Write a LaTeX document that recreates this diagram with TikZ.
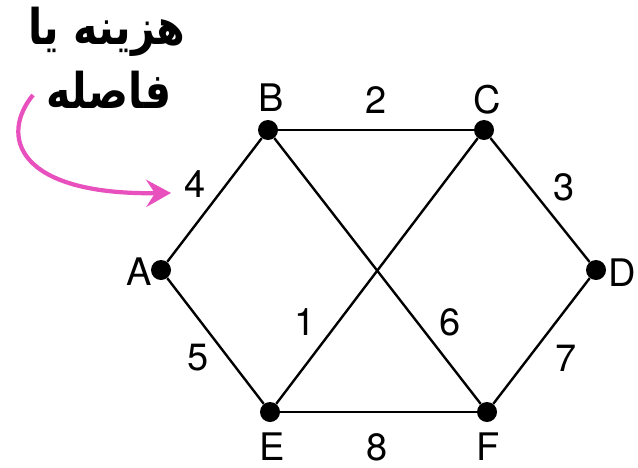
\documentclass[tikz,border=0pt]{standalone}
\usepackage{fontspec}
\setmainfont{TeX Gyre Heros}
\newfontfamily\arabicfont[Script=Arabic, FakeStretch=0.84]{DejaVu Sans}
\TeXXeTstate=1
\usepackage{xcolor}
\usetikzlibrary{arrows.meta}
\definecolor{mypink}{RGB}{232,80,190}

\begin{document}
\begin{tikzpicture}[x=0.025cm, y=-0.025cm,
    every node/.style={font=\fontsize{27}{30}\selectfont},
    vertex/.style={circle, fill=black, inner sep=0pt, minimum size=0.5cm},
    edge/.style={line width=1.7pt}]
  \useasboundingbox (0,0) rectangle (638,467);
  % vertices
  \node[vertex] (a) at (161,270) {};
  \node[vertex] (b) at (268,130) {};
  \node[vertex] (c) at (484,130) {};
  \node[vertex] (d) at (596,270) {};
  \node[vertex] (e) at (270,412) {};
  \node[vertex] (f) at (487,412) {};
  % vertex names
  \node (na) at (139,272) {A};
  \node (nb) at (271,98)  {B};
  \node (nc) at (487,100) {C};
  \node (nd) at (622,273) {D};
  \node (ne) at (272,447) {E};
  \node (nf) at (488,447) {F};
  % edges
  \draw[edge] (a) -- (b);
  \draw[edge] (a) -- (e);
  \draw[edge] (b) -- (c);
  \draw[edge] (b) -- (f);
  \draw[edge] (c) -- (d);
  \draw[edge] (c) -- (e);
  \draw[edge] (d) -- (f);
  \draw[edge] (e) -- (f);
  % weights
  \node (w4) at (195,184) {4};
  \node (w2) at (376,100) {2};
  \node (w3) at (564,187) {3};
  \node (w1) at (305,322) {1};
  \node (w6) at (450,322) {6};
  \node (w5) at (198,358) {5};
  \node (w7) at (566,358) {7};
  \node (w8) at (377,447) {8};
  % caption
  \node[font=\arabicfont\bfseries\fontsize{35}{40}\selectfont] (cap1) at (107,32) {\beginR هزینه یا\endR};
  \node[font=\arabicfont\bfseries\fontsize{35}{40}\selectfont] (cap2) at (109,90) {\beginR فاصله\endR};
  \coordinate (arrstart) at (33,95);
  \coordinate (arrtip) at (171,193);
  \draw[mypink, line width=3pt, -{Stealth[length=0.62cm, width=0.68cm, inset=0.22cm]}]
    (arrstart) .. controls (0,135) and (15,195) .. (arrtip);
\end{tikzpicture}
\end{document}
